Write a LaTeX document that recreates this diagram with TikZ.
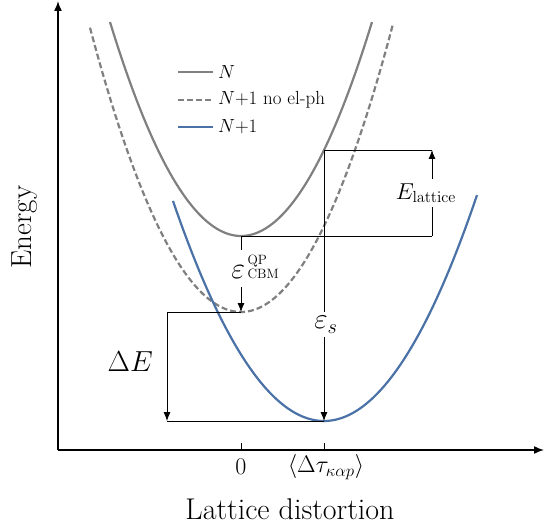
\RequirePackage{fix-cm}
\documentclass[tikz,border=0pt]{standalone}
\usetikzlibrary{arrows.meta}
\definecolor{curvegray}{RGB}{128,128,128}
\definecolor{curveblue}{RGB}{74,114,166}
\newcommand{\qplabel}{{\fontsize{30}{30}\selectfont$\varepsilon$}\kern2.5pt{\fontsize{13.5}{14.5}\selectfont\begin{tabular}[b]{@{}l@{}}QP\\CBM\end{tabular}}}
\begin{document}
\begin{tikzpicture}[x=1pt,y=-1pt,
	axis/.style={line width=1.5pt,-{Latex[length=10pt,width=8pt]}},
	guide/.style={line width=0.8pt},
	guidearrow/.style={line width=0.8pt,-{Latex[length=9pt,width=7pt]}},
	bandN/.style={curvegray,line width=2.2pt},
	bandnoph/.style={curvegray,line width=2.2pt,dash pattern=on 6pt off 3pt},
	bandNone/.style={curveblue,line width=2.2pt},
	lbl/.style={font=\fontsize{23}{27}\selectfont,fill=white,inner sep=1pt},
	biglbl/.style={font=\fontsize{29}{33}\selectfont,fill=white,inner sep=1pt},
	ticklbl/.style={font=\fontsize{24}{28}\selectfont},
	title/.style={font=\fontsize{30}{35}\selectfont},
	legend/.style={font=\fontsize{19}{23}\selectfont,anchor=west,inner sep=1pt}]
	\useasboundingbox (0,0) rectangle (558,527);
	% axes
	\coordinate (origin) at (58,450);
	\coordinate (ytop) at (58,1);
	\coordinate (xend) at (544,450);
	\draw[axis] (origin) -- (ytop);
	\draw[axis] (origin) -- (xend);
	\draw[line width=1pt] (241,450) -- (241,443);
	\draw[line width=1pt] (324,450) -- (324,443);
	\node[ticklbl] (zero) at (241,467) {$0$};
	\node[ticklbl] (tau) at (326,467) {$\langle\Delta\tau_{\kappa\alpha p}\rangle$};
	\node[title] (xlabel) at (290,509) {Lattice distortion};
	\node[title,font=\fontsize{29}{34}\selectfont,rotate=90] (ylabel) at (25,227) {Energy};
	% curves
	\draw[bandN] plot[domain=110:372,samples=80] (\x,{236-1.247*((\x-241)/10)^2});
	\draw[bandnoph] plot[domain=90:393,samples=80] (\x,{312-1.247*((\x-241)/10)^2});
	\draw[bandNone] plot[domain=173:477,samples=80] (\x,{421-0.965*((\x-324)/10)^2});
	% special points
	\coordinate (gmin) at (241,236);
	\coordinate (dmin) at (241,312);
	\coordinate (bmin) at (324,421);
	\coordinate (gtau) at (324,150);
	\coordinate (elow) at (432,236);
	\coordinate (ehigh) at (432,150);
	\coordinate (dleft) at (167,312);
	\coordinate (bleft) at (167,421);
	% energy differences
	\draw[guide] (gmin) -- (elow);
	\draw[guide] (gtau) -- (ehigh);
	\draw[guidearrow] (elow) -- (ehigh) node[lbl,midway,xshift=-6pt,inner ysep=4pt] (elat) {$E_{\mathrm{lattice}}$};
	\draw[guidearrow] (gtau) -- (bmin) node[biglbl,pos=0.645,xshift=2pt,inner ysep=4pt] (epss) {$\varepsilon_s$};
	\draw[guidearrow] (gmin) -- (dmin) node[fill=white,inner xsep=1pt,inner ysep=4pt,pos=0.43,xshift=14pt] (eqp) {\qplabel};
	\draw[guidearrow] (dmin) -- (dleft) -- (bleft);
	\draw[guide] (bleft) -- (bmin);
	\node[biglbl,anchor=east] (de) at (154,362) {$\Delta E$};
	% legend
	\draw[bandN] (178,72) -- (213,72);
	\node[legend] (legN) at (217,72) {$N$};
	\draw[bandnoph] (178,100) -- (213,100);
	\node[legend] (legnoph) at (217,100) {$N{+}1$ no el-ph};
	\draw[bandNone] (178,127) -- (213,127);
	\node[legend] (legNone) at (217,127) {$N{+}1$};
\end{tikzpicture}
\end{document}
